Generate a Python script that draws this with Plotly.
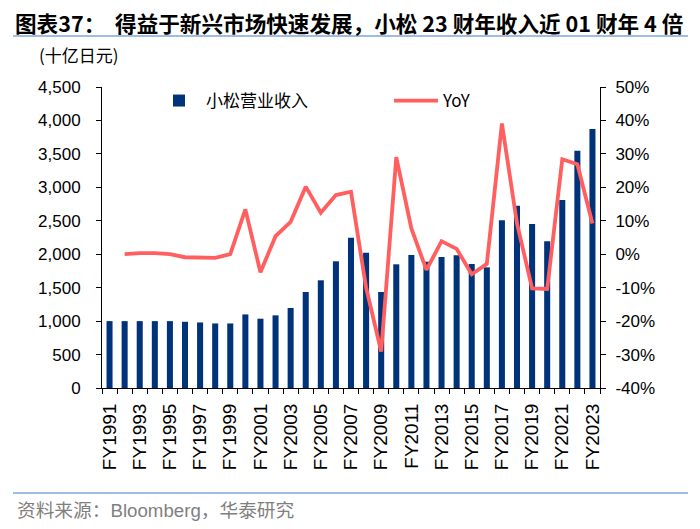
import plotly.graph_objects as go

years = list(range(1991, 2024))
revenue = [1000, 1000, 1000, 1000, 1000, 990, 980, 965, 965, 1100,
           1036, 1086, 1196, 1435, 1610, 1894, 2247, 2023, 1435, 1849,
           1988, 1888, 1958, 1983, 1854, 1804, 2507, 2725, 2452, 2193,
           2810, 3547, 3872]
yoy_years = list(range(1992, 2024))
yoy = [0.0, 0.3, 0.3, 0.0, -0.9, -1.0, -1.1, 0.0, 13.4, -5.4,
       5.4, 9.7, 20.2, 12.4, 17.7, 18.7, -10.0, -29.1, 29.0, 7.7,
       -4.7, 3.9, 1.6, -6.0, -2.9, 39.1, 9.2, -10.2, -10.4, 28.4,
       26.9, 9.2]
label_years = years[::2]
label_text = ["FY%d" % y for y in label_years]
left_ticks = list(range(0, 4501, 500))
right_ticks = list(range(-40, 51, 10))
right_text = ["%d%%" % v for v in right_ticks]

NAVY = "#00337a"
RED = "#ff5f5f"
FONT = "Liberation Sans, Noto Sans CJK SC, sans-serif"
CJK = "Noto Sans CJK SC, Liberation Sans, sans-serif"

OFF = 8  # page body margin offset
W, H = 700 - OFF, 529 - OFF
# target plot area in page pixels: x 102..600, y 87..388
L = 102 - OFF
T = 87 - OFF
R = W - (600 - OFF)
B = H - (388 - OFF)
pw, ph = W - L - R, H - T - B

def px(x):
    return (x - OFF - L) / pw

def py(y):
    return (H - B - (y - OFF)) / ph

fig = go.Figure()
fig.add_trace(go.Bar(x=years, y=revenue, name="小松营业收入",
                     marker=dict(color=NAVY, line=dict(width=0)), width=0.4,
                     yaxis="y"))
fig.add_trace(go.Scatter(x=yoy_years, y=yoy, name="YoY", mode="lines",
                         line=dict(color=RED, width=3.8), yaxis="y2"))

fig.update_layout(
    width=W, height=H,
    margin=dict(l=L, r=R, t=T, b=B, autoexpand=False),
    paper_bgcolor="white", plot_bgcolor="white",
    font=dict(family=FONT, size=17, color="black"),
    showlegend=True,
    legend=dict(orientation="h", x=px(152), y=py(101), xanchor="left", yanchor="middle",
                font=dict(family=CJK, size=17), bgcolor="rgba(0,0,0,0)",
                itemwidth=44, tracegroupgap=0, entrywidth=178, entrywidthmode="pixels"),
    xaxis=dict(range=[1990.5, 2023.5], tickvals=label_years, ticktext=label_text,
               tickangle=-90, ticks="", showgrid=False, zeroline=False,
               showline=True, linecolor="black", linewidth=1, automargin=False,
               tickfont=dict(size=19), ticklabelstandoff=7,
               minor=dict(tick0=1990.5, dtick=1, ticks="outside", ticklen=5,
                          tickcolor="black", showgrid=False)),
    yaxis=dict(range=[0, 4500], tickvals=left_ticks, tickformat=",", ticks="outside",
               ticklen=5, tickcolor="black", showline=True, linecolor="black",
               linewidth=1, showgrid=False, zeroline=False, ticklabelstandoff=12,
               automargin=False),
    yaxis2=dict(range=[-40, 50], tickvals=right_ticks, ticktext=right_text, overlaying="y",
                side="right", ticks="outside", ticklen=5, tickcolor="black",
                showline=True, linecolor="black", linewidth=1, showgrid=False,
                zeroline=False, ticklabelstandoff=6, automargin=False),
    bargap=0.6,
)

fig.add_annotation(text="<b>图表37：  得益于新兴市场快速发展，小松 23 财年收入近 01 财年 4 倍</b>",
                   xref="paper", yref="paper", x=px(13), y=py(22), xanchor="left",
                   yanchor="middle", showarrow=False,
                   font=dict(family=CJK, size=21.6, color="black"))
fig.add_annotation(text="(十亿日元)", xref="paper", yref="paper", x=px(37), y=py(55),
                   xanchor="left", yanchor="middle", showarrow=False,
                   font=dict(family=CJK, size=17, color="black"))
fig.add_annotation(text="资料来源：Bloomberg，华泰研究", xref="paper", yref="paper",
                   x=px(15), y=py(510), xanchor="left", yanchor="middle", showarrow=False,
                   font=dict(family=FONT, size=18.7, color="#7f7f7f"))
fig.add_shape(type="line", xref="paper", yref="paper", x0=px(13), x1=px(688),
              y0=py(36), y1=py(36), line=dict(color="#7fa6d9", width=1.5))
fig.add_shape(type="line", xref="paper", yref="paper", x0=px(13), x1=px(688),
              y0=py(493), y1=py(493), line=dict(color="#7fa6d9", width=1.5))

fig.write_html("out.html")
